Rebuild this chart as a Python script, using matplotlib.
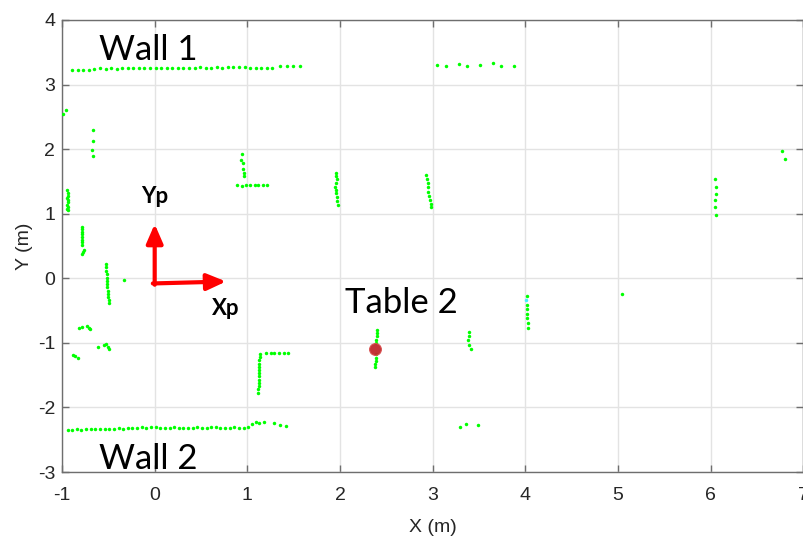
"""Lidar scan of the room with the table position marked."""

import numpy as np
import matplotlib
matplotlib.use("Agg")
import matplotlib.pyplot as plt

# =============================================================================
# Data (metres)
# =============================================================================
wall1_x = [-0.89, -0.83, -0.77, -0.71, -0.65, -0.59, -0.53, -0.47, -0.41, -0.35,
           -0.29, -0.23, -0.17, -0.11, -0.05, 0.01, 0.07, 0.13, 0.19, 0.25,
           0.31, 0.37, 0.43, 0.49, 0.55, 0.61, 0.67, 0.73, 0.79, 0.85,
           0.91, 0.97, 1.03, 1.09, 1.15, 1.21, 1.27, 1.35, 1.43, 1.49, 1.57]
wall1_y = [3.22, 3.22, 3.23, 3.23, 3.24, 3.25, 3.24, 3.25, 3.24, 3.25,
           3.25, 3.25, 3.26, 3.25, 3.26, 3.25, 3.26, 3.26, 3.26, 3.26,
           3.26, 3.26, 3.26, 3.27, 3.26, 3.26, 3.27, 3.26, 3.27, 3.27,
           3.27, 3.27, 3.26, 3.26, 3.25, 3.26, 3.25, 3.28, 3.29, 3.28, 3.28]

wall1b_x = [3.05, 3.14, 3.28, 3.37, 3.51, 3.65, 3.74, 3.88]
wall1b_y = [3.31, 3.29, 3.32, 3.29, 3.31, 3.33, 3.29, 3.29]

wall2_x = [-0.94, -0.89, -0.84, -0.79, -0.74, -0.69, -0.64, -0.59, -0.54, -0.49,
           -0.44, -0.39, -0.34, -0.29, -0.24, -0.19, -0.14, -0.09, -0.04, 0.01,
           0.06, 0.11, 0.16, 0.21, 0.26, 0.31, 0.36, 0.41, 0.46, 0.51,
           0.56, 0.61, 0.66, 0.71, 0.76, 0.81, 0.86, 0.91, 0.96, 1.01,
           1.05, 1.09, 1.13, 1.18, 1.29, 1.35, 1.42]
wall2_y = [-2.35, -2.35, -2.34, -2.35, -2.34, -2.34, -2.33, -2.34, -2.33, -2.33,
           -2.33, -2.32, -2.33, -2.32, -2.32, -2.32, -2.31, -2.32, -2.31, -2.31,
           -2.32, -2.32, -2.32, -2.31, -2.32, -2.32, -2.32, -2.32, -2.31, -2.32,
           -2.32, -2.31, -2.31, -2.32, -2.32, -2.32, -2.31, -2.32, -2.32, -2.30,
           -2.25, -2.23, -2.24, -2.23, -2.24, -2.27, -2.28]

wall2b_x = [3.29, 3.36, 3.49]
wall2b_y = [-2.31, -2.26, -2.27]

corner_x = [-0.99, -0.96]
corner_y = [2.54, 2.61]

post_a_x = [-0.67, -0.67, -0.68, -0.67]
post_a_y = [2.30, 2.13, 1.98, 1.90]

seg_b_x = [-0.95, -0.94, -0.93, -0.95, -0.94, -0.93, -0.95, -0.94, -0.95, -0.94]
seg_b_y = [1.36, 1.32, 1.28, 1.25, 1.21, 1.18, 1.14, 1.11, 1.08, 1.05]

seg_c_x = [-0.78, -0.78, -0.78, -0.78, -0.78, -0.78, -0.78, -0.78, -0.76, -0.77, -0.78]
seg_c_y = [0.80, 0.76, 0.72, 0.68, 0.64, 0.60, 0.56, 0.52, 0.44, 0.40, 0.37]

seg_d_x = [-0.52, -0.52, -0.52, -0.51, -0.51, -0.51, -0.51, -0.51, -0.50, -0.50,
           -0.50, -0.49, -0.49, -0.33]
seg_d_y = [0.22, 0.17, 0.12, 0.06, 0.01, -0.04, -0.09, -0.14, -0.19, -0.24,
           -0.29, -0.34, -0.39, -0.03]

arc_e_x = [-0.82, -0.78, -0.73, -0.71, -0.70]
arc_e_y = [-0.77, -0.75, -0.74, -0.77, -0.79]

arc_f_x = [-0.61, -0.55, -0.53, -0.50, -0.49]
arc_f_y = [-1.07, -1.03, -1.02, -1.06, -1.10]

pts_g_x = [-0.88, -0.86, -0.83]
pts_g_y = [-1.19, -1.21, -1.23]

chair1_x = [0.94, 0.93, 0.95, 0.95, 0.96, 0.96,
            0.89, 0.94, 0.99, 1.03, 1.08, 1.12, 1.17, 1.21]
chair1_y = [1.92, 1.83, 1.78, 1.70, 1.63, 1.59,
            1.44, 1.43, 1.44, 1.44, 1.44, 1.44, 1.44, 1.44]

leg2_x = [1.96, 1.96, 1.97, 1.96, 1.95, 1.96, 1.96, 1.97, 1.97, 1.98]
leg2_y = [1.63, 1.58, 1.53, 1.47, 1.42, 1.37, 1.32, 1.26, 1.19, 1.13]

leg3_x = [2.93, 2.94, 2.95, 2.95, 2.95, 2.96, 2.97, 2.98, 2.98]
leg3_y = [1.60, 1.54, 1.47, 1.41, 1.34, 1.28, 1.21, 1.15, 1.11]

leg6_x = [6.05, 6.06, 6.06, 6.04, 6.04, 6.06]
leg6_y = [1.54, 1.42, 1.31, 1.21, 1.10, 0.98]

pts7_x = [6.77, 6.80]
pts7_y = [1.97, 1.84]

table2_x = [2.40, 2.40, 2.40, 2.39, 2.39, 2.39, 2.39, 2.39, 2.38, 2.38]
table2_y = [-0.80, -0.85, -0.90, -0.95, -1.00, -1.18, -1.23, -1.28, -1.33, -1.37]

leg34_x = [3.39, 3.39, 3.38, 3.39, 3.41]
leg34_y = [-0.83, -0.90, -0.96, -1.03, -1.10]

leg4_x = [4.02, 4.02, 4.02, 4.02, 4.02, 4.03, 4.03, 5.04]
leg4_y = [-0.27, -0.41, -0.48, -0.55, -0.62, -0.70, -0.77, -0.25]

chair2_x = [1.14, 1.20, 1.25, 1.29, 1.34, 1.39, 1.44,
            1.14, 1.13, 1.13, 1.13, 1.13, 1.13, 1.13, 1.13, 1.13, 1.13, 1.12, 1.12]
chair2_y = [-1.17, -1.16, -1.16, -1.16, -1.16, -1.16, -1.15,
            -1.22, -1.27, -1.32, -1.37, -1.42, -1.47, -1.52, -1.57, -1.62, -1.67,
            -1.72, -1.78]

odd_x = [4.01]
odd_y = [-0.33]

table_pos = (2.38, -1.09)

x_ticks = [-1, 0, 1, 2, 3, 4, 5, 6, 7]
y_ticks = [-3, -2, -1, 0, 1, 2, 3, 4]

# =============================================================================
# Plot
# =============================================================================
plt.rcParams["font.family"] = ["Liberation Sans", "DejaVu Sans"]
plt.rcParams["axes.unicode_minus"] = False
LABEL_FONT = ["Lato", "DejaVu Sans"]

fig = plt.figure(figsize=(8.04, 5.37), dpi=100)
ax = fig.add_axes([62 / 804, 65 / 537, (803.5 - 62) / 804, 452 / 537])

groups = [(wall1_x, wall1_y), (wall1b_x, wall1b_y), (wall2_x, wall2_y),
          (wall2b_x, wall2b_y), (corner_x, corner_y), (post_a_x, post_a_y),
          (seg_b_x, seg_b_y), (seg_c_x, seg_c_y), (seg_d_x, seg_d_y),
          (arc_e_x, arc_e_y), (arc_f_x, arc_f_y), (pts_g_x, pts_g_y),
          (chair1_x, chair1_y), (leg2_x, leg2_y), (leg3_x, leg3_y),
          (leg6_x, leg6_y), (pts7_x, pts7_y), (table2_x, table2_y),
          (leg34_x, leg34_y), (leg4_x, leg4_y), (chair2_x, chair2_y)]
scan_x = np.concatenate([g[0] for g in groups])
scan_y = np.concatenate([g[1] for g in groups])

ax.plot(scan_x, scan_y, "o", color="#00ff00", ms=2.5, mec="none", zorder=3)
ax.plot(odd_x, odd_y, "o", color="#40f0ff", ms=2.5, mec="none", zorder=3)
ax.plot(*table_pos, "o", color="#c0282d", ms=8.5, mec="#d85050", mew=0.8,
        alpha=0.95, zorder=4)

# Robot frame arrows
arrow = dict(arrowstyle="-|>,head_length=1.15,head_width=0.5", color="red",
             lw=3, shrinkA=0, shrinkB=0, mutation_scale=10)
ax.annotate("", xy=(0.0, 0.84), xytext=(0.0, -0.10), arrowprops=arrow, zorder=5)
ax.annotate("", xy=(0.77, -0.05), xytext=(-0.02, -0.08), arrowprops=arrow, zorder=5)

ax.text(-0.15, 1.17, "Yp", fontsize=16, fontweight="bold", family=LABEL_FONT, zorder=6)
ax.text(0.62, -0.57, "Xp", fontsize=16, fontweight="bold", family=LABEL_FONT, zorder=6)

ax.text(-0.60, 3.38, "Wall 1", fontsize=25, family=LABEL_FONT, zorder=6)
ax.text(-0.60, -2.95, "Wall 2", fontsize=25, family=LABEL_FONT, zorder=6)
ax.text(2.05, -0.54, "Table 2", fontsize=25, family=LABEL_FONT, zorder=6)

ax.set_xlim(-1, 7)
ax.set_ylim(-3, 4)
ax.set_xticks(x_ticks)
ax.set_yticks(y_ticks)
ax.grid(True, color="#e3e3e3", lw=1)
ax.set_axisbelow(True)

for side in ax.spines.values():
    side.set_color("#6e6e6e")
    side.set_linewidth(1.0)

ax.tick_params(axis="both", direction="in", length=5, width=1, color="#6e6e6e",
               top=True, right=True, labelsize=14, labelcolor="#262626")
ax.tick_params(axis="x", pad=11)
ax.tick_params(axis="y", pad=5)

ax.set_xlabel("X (m)", fontsize=14, color="#262626")
ax.set_ylabel("Y (m)", fontsize=14, color="#262626")
ax.xaxis.set_label_coords(0.5, -0.122)
ax.xaxis.label.set_va("center")
ax.yaxis.set_label_coords(-0.0506, 0.5)
ax.yaxis.label.set_va("center")

fig.savefig("out.png", dpi=100)
